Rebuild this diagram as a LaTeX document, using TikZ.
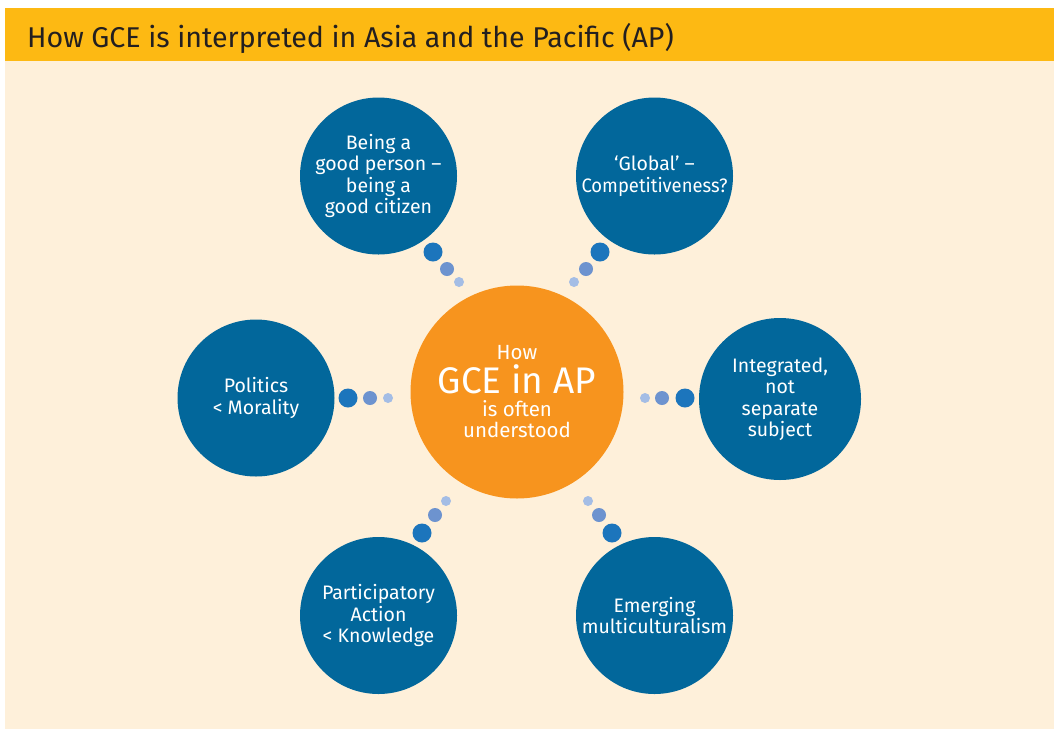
\documentclass[tikz,border=0pt]{standalone}
\usepackage{fontspec}
\setmainfont{Fira Sans}
\definecolor{bgcream}{HTML}{FEF0DA}
\definecolor{titlebar}{HTML}{FDB913}
\definecolor{titleink}{HTML}{231F20}
\definecolor{bubble}{HTML}{02679B}
\definecolor{hubor}{HTML}{F7941E}
\definecolor{dotbig}{HTML}{1C75BC}
\definecolor{dotmid}{HTML}{6D93CF}
\definecolor{dotsmall}{HTML}{A4BDE5}
\begin{document}
\begin{tikzpicture}[x=1pt,y=-1pt,
  bubblenode/.style={circle,fill=bubble,draw=none,minimum size=157pt,inner sep=0pt,
    text=white,align=center,font=\fontsize{19.5}{21.5}\selectfont},
  hubnode/.style={circle,fill=hubor,draw=none,minimum size=213pt,inner sep=0pt},
  hubtext/.style={text=white,inner sep=0pt,anchor=base},
  bigdot/.style={circle,fill=dotbig,draw=none,minimum size=19pt,inner sep=0pt},
  middot/.style={circle,fill=dotmid,draw=none,minimum size=14pt,inner sep=0pt},
  smalldot/.style={circle,fill=dotsmall,draw=none,minimum size=10pt,inner sep=0pt}]
\useasboundingbox (0,0) rectangle (1054,729);
\fill[white] (0,0) rectangle (1054,729);
\fill[bgcream] (5,8) rectangle (1054,729);
\fill[titlebar] (5,8) rectangle (1054,61);
\node[anchor=base west,inner sep=0pt,text=titleink,font=\fontsize{28.6}{31}\selectfont] (title) at (27,47) {How GCE is interpreted in Asia and the Pacific (AP)};

% centre
\node[hubnode] (hub) at (517,392) {};
\node[hubtext,font=\fontsize{20.5}{22}\selectfont] (hubhow) at (517,359) {How};
\node[hubtext,font=\fontsize{37}{40}\selectfont] (hubgce) at (517,393) {GCE in AP};
\node[hubtext,font=\fontsize{20.5}{22}\selectfont] (hubis) at (517,416) {is often};
\node[hubtext,font=\fontsize{20.5}{22}\selectfont] (hubund) at (517,437) {understood};

% outer bubbles
\node[bubblenode] (tl) at (378.5,176) {Being a\\good person –\\being a\\good citizen};
\node[bubblenode] (tr) at (654.5,176) {‘Global’ –\\\scalebox{0.945}[1]{Competitiveness?}};
\node[bubblenode] (ml) at (256,398) {Politics\\< Morality};
\node[bubblenode,minimum size=162pt] (mr) at (780,399) {Integrated,\\not\\separate\\subject};
\node[bubblenode] (bl) at (378.5,615.5) {Participatory\\Action\\< Knowledge};
\node[bubblenode] (br) at (654.5,615.5) {Emerging\\multiculturalism};

% dots
\node[bigdot] (tla) at (433,252) {};
\node[middot] (tlb) at (447,269) {};
\node[smalldot] (tlc) at (459,282) {};
\node[bigdot] (tra) at (600,252) {};
\node[middot] (trb) at (586,269) {};
\node[smalldot] (trc) at (574,282) {};
\node[bigdot] (mla) at (348,398) {};
\node[middot] (mlb) at (370,398) {};
\node[smalldot] (mlc) at (388,398) {};
\node[bigdot] (mra) at (685,398) {};
\node[middot] (mrb) at (662,398) {};
\node[smalldot] (mrc) at (645,398) {};
\node[bigdot] (bla) at (422,533) {};
\node[middot] (blb) at (435,515) {};
\node[smalldot] (blc) at (446,501) {};
\node[bigdot] (bra) at (612,533) {};
\node[middot] (brb) at (599,515) {};
\node[smalldot] (brc) at (588,501) {};
\end{tikzpicture}
\end{document}
